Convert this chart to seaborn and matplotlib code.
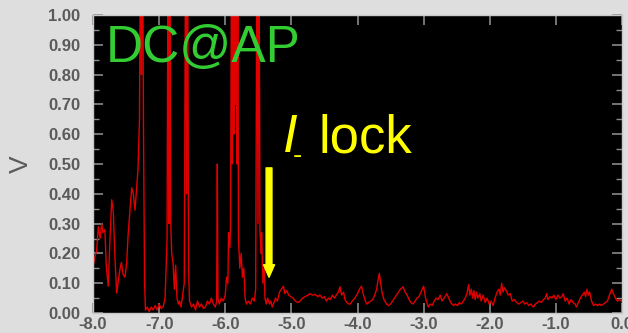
import matplotlib
matplotlib.use("Agg")
import matplotlib.pyplot as plt
import seaborn as sns
import pandas as pd
from matplotlib.ticker import MultipleLocator, FormatStrFormatter

# Photodiode DC level at the AP port while scanning the piezo offset
scan_x = [
    -8.00, -7.97, -7.944, -7.92, -7.894, -7.868, -7.85, -7.82, -7.80, -7.77,
    -7.743, -7.717, -7.693, -7.667, -7.642, -7.622, -7.59, -7.57, -7.546, -7.516,
    -7.49, -7.47, -7.44, -7.415, -7.39, -7.365, -7.34, -7.32, -7.297, -7.282,
    -7.267, -7.25, -7.236, -7.22, -7.206,
    -7.18, -7.15, -7.12, -7.09, -7.06, -7.03, -7.00, -6.97, -6.94, -6.91,
    -6.88, -6.865, -6.85, -6.84, -6.825, -6.81, -6.79, -6.77, -6.75, -6.73,
    -6.71, -6.69, -6.67, -6.65, -6.62,
    -6.60, -6.585, -6.57, -6.555, -6.54, -6.51, -6.48, -6.45, -6.42, -6.39,
    -6.36, -6.33, -6.30, -6.27, -6.24, -6.21, -6.18, -6.15, -6.13,
    -6.12, -6.11, -6.09, -6.06, -6.03, -6.00, -5.98, -5.96, -5.95, -5.93, -5.92,
    -5.905, -5.895, -5.885, -5.87, -5.86, -5.845, -5.835, -5.82, -5.81, -5.80,
    -5.78, -5.76, -5.74, -5.72, -5.70, -5.68, -5.65, -5.62, -5.59, -5.56, -5.54,
    -5.52, -5.505, -5.49, -5.475, -5.46, -5.45, -5.43, -5.41, -5.40, -5.38,
    -5.36, -5.33, -5.31, -5.29,
    -5.27, -5.24, -5.21, -5.18, -5.15, -5.12, -5.10, -5.07, -5.04, -5.01,
    -4.975, -4.94, -4.90, -4.87, -4.83, -4.79, -4.75, -4.72, -4.68, -4.64,
    -4.60, -4.57, -4.53, -4.50, -4.47, -4.44, -4.41, -4.38, -4.35, -4.32,
    -4.29, -4.265, -4.24, -4.21, -4.19, -4.16, -4.13, -4.11, -4.08, -4.04,
    -4.00, -3.97, -3.94, -3.91, -3.88, -3.86, -3.83, -3.80, -3.77, -3.74,
    -3.71, -3.69, -3.67, -3.65, -3.63, -3.60, -3.56, -3.53, -3.50, -3.47,
    -3.44, -3.41, -3.38, -3.35, -3.31, -3.28, -3.25, -3.22, -3.19, -3.16,
    -3.13, -3.10, -3.07, -3.04, -3.00, -2.97, -2.93, -2.90, -2.87, -2.84,
    -2.81, -2.78, -2.75, -2.72, -2.69, -2.65, -2.62, -2.59, -2.55, -2.52,
    -2.49, -2.46, -2.43, -2.40, -2.37, -2.34, -2.32, -2.30, -2.28, -2.26,
    -2.24, -2.22, -2.20, -2.18, -2.15, -2.13, -2.10, -2.07, -2.04, -2.01,
    -1.98, -1.95, -1.92, -1.89, -1.86, -1.84, -1.82, -1.80, -1.78, -1.75,
    -1.72, -1.69, -1.66, -1.63, -1.59, -1.56, -1.53, -1.50, -1.47, -1.44,
    -1.41, -1.38, -1.34, -1.31, -1.28, -1.25, -1.22, -1.19, -1.16, -1.14,
    -1.12, -1.09, -1.06, -1.03, -1.00, -0.97, -0.94, -0.91, -0.89, -0.86,
    -0.83, -0.80, -0.77, -0.74, -0.71, -0.69, -0.66, -0.63, -0.60, -0.57,
    -0.55, -0.53, -0.51, -0.49, -0.46, -0.43, -0.40, -0.37, -0.34, -0.31,
    -0.28, -0.25, -0.22, -0.19, -0.17, -0.155, -0.13, -0.10, -0.07, -0.04,
    -0.01, 0.00,
]
dc_volts = [
    0.155, 0.19, 0.21, 0.29, 0.25, 0.30, 0.27, 0.28, 0.16, 0.09,
    0.25, 0.38, 0.34, 0.18, 0.067, 0.10, 0.15, 0.17, 0.13, 0.12,
    0.17, 0.26, 0.35, 0.42, 0.40, 0.345, 0.42, 0.48, 0.65, 1.30,
    0.80, 1.30, 0.60, 0.10, 0.01,
    0.02, 0.005, 0.02, 0.01, 0.025, 0.01, 0.03, 0.015, 0.02, 0.05,
    0.25, 1.30, 0.30, 1.30, 0.31, 0.20, 0.17, 0.08, 0.16, 0.05,
    0.03, 0.04, 0.02, 0.05, 0.10,
    1.30, 0.40, 1.30, 0.15, 0.04, 0.02, 0.03, 0.01, 0.04, 0.02,
    0.03, 0.015, 0.02, 0.04, 0.03, 0.05, 0.03, 0.02, 0.04,
    0.50, 0.05, 0.03, 0.05, 0.04, 0.06, 0.12, 0.10, 0.27, 0.22, 0.30,
    1.30, 0.50, 1.30, 0.60, 1.30, 0.70, 1.30, 0.50, 1.30, 0.25,
    0.15, 0.20, 0.12, 0.15, 0.05, 0.03, 0.04, 0.03, 0.05, 0.04, 0.08,
    1.30, 0.30, 1.30, 0.28, 0.20, 0.27, 0.10, 0.15, 0.05, 0.03,
    0.05, 0.03, 0.04, 0.02,
    0.03, 0.05, 0.04, 0.07, 0.08, 0.09, 0.065, 0.075, 0.06, 0.055,
    0.05, 0.04, 0.035, 0.04, 0.05, 0.055, 0.06, 0.065, 0.06, 0.062,
    0.055, 0.06, 0.05, 0.055, 0.04, 0.05, 0.045, 0.06, 0.05, 0.06,
    0.07, 0.088, 0.06, 0.07, 0.045, 0.035, 0.03, 0.03, 0.04, 0.05,
    0.065, 0.08, 0.09, 0.06, 0.04, 0.03, 0.035, 0.04, 0.045, 0.06,
    0.08, 0.11, 0.133, 0.10, 0.07, 0.045, 0.03, 0.025, 0.03, 0.04,
    0.05, 0.06, 0.07, 0.08, 0.088, 0.07, 0.06, 0.045, 0.035, 0.03,
    0.04, 0.05, 0.055, 0.07, 0.09, 0.05, 0.02, 0.03, 0.025, 0.04,
    0.05, 0.045, 0.06, 0.04, 0.05, 0.065, 0.05, 0.035, 0.025, 0.03,
    0.025, 0.035, 0.03, 0.04, 0.05, 0.07, 0.095, 0.06, 0.08, 0.05,
    0.075, 0.045, 0.07, 0.05, 0.065, 0.04, 0.06, 0.035, 0.05, 0.03,
    0.04, 0.025, 0.05, 0.07, 0.08, 0.06, 0.10, 0.07, 0.085, 0.075,
    0.06, 0.065, 0.04, 0.045, 0.035, 0.03, 0.035, 0.04, 0.03, 0.035,
    0.025, 0.03, 0.02, 0.03, 0.035, 0.04, 0.035, 0.045, 0.05, 0.065,
    0.045, 0.055, 0.05, 0.06, 0.045, 0.06, 0.05, 0.055, 0.065, 0.04,
    0.05, 0.03, 0.045, 0.035, 0.03, 0.02, 0.035, 0.05, 0.06, 0.07,
    0.055, 0.08, 0.06, 0.07, 0.04, 0.025, 0.03, 0.025, 0.03, 0.025,
    0.03, 0.035, 0.04, 0.06, 0.07, 0.08, 0.065, 0.05, 0.04, 0.045,
    0.04, 0.04,
]

x_ticks = [-8.0, -7.0, -6.0, -5.0, -4.0, -3.0, -2.0, -1.0, 0.0]

df = pd.DataFrame({"offset": scan_x, "V": dc_volts})

sns.set_theme(style="white")
plt.rcParams["font.family"] = ["Liberation Sans", "DejaVu Sans"]
plt.rcParams["axes.unicode_minus"] = False

bg = "#dedede"
tick_col = "#5a5a5a"

fig = plt.figure(figsize=(6.28, 3.33), dpi=100, facecolor=bg)
ax = fig.add_axes([93 / 628, 20 / 333, 529 / 628, 298 / 333])
ax.set_facecolor("black")

sns.lineplot(data=df, x="offset", y="V", ax=ax, color="#e00000",
             linewidth=1.0, estimator=None, sort=False, legend=False)

ax.set_xlim(-8.0, 0.0)
ax.set_ylim(0.0, 1.0)
ax.set_xticks(x_ticks)
ax.xaxis.set_major_formatter(FormatStrFormatter("%.1f"))
ax.yaxis.set_major_locator(MultipleLocator(0.1))
ax.yaxis.set_minor_locator(MultipleLocator(0.05))
ax.yaxis.set_major_formatter(FormatStrFormatter("%.2f"))

ax.tick_params(axis="both", which="both", direction="in", color="#8a8a8a",
               labelcolor=tick_col, labelsize=12, top=True, right=True,
               bottom=True, left=True)
ax.tick_params(axis="both", which="major", length=7, width=1.2)
ax.tick_params(axis="y", which="minor", length=4, width=1.0)
ax.tick_params(axis="y", which="major", pad=9)
ax.tick_params(axis="x", which="major", pad=3)
for lbl in ax.get_xticklabels() + ax.get_yticklabels():
    lbl.set_fontweight("bold")

for sp in ax.spines.values():
    sp.set_color("#c8c8c8")
    sp.set_linewidth(1.0)

ax.set_xlabel("")
ax.set_ylabel("V", fontsize=19, color=tick_col, rotation=90)
ax.yaxis.set_label_coords(-0.113, 0.50)

# Labels
ax.text(-7.80, 0.842, "DC@AP", color="#33cc33", fontsize=37,
        ha="left", va="baseline")
ax.text(-5.135, 0.540, "I", color="#ffff00", fontsize=38, style="italic",
        ha="left", va="baseline")
ax.text(-4.985, 0.505, "-", color="#ffff00", fontsize=20,
        ha="left", va="baseline")
ax.text(-4.585, 0.540, "lock", color="#ffff00", fontsize=38,
        ha="left", va="baseline")

# Arrow marking where the lock is acquired
ax.annotate("", xy=(-5.338, 0.120), xytext=(-5.338, 0.487),
            arrowprops=dict(facecolor="#ffff00", edgecolor="#ffff00",
                            width=4.2, headwidth=8.0, headlength=9.0,
                            shrink=0.0))

fig.savefig("out.png", dpi=100, facecolor=bg)
